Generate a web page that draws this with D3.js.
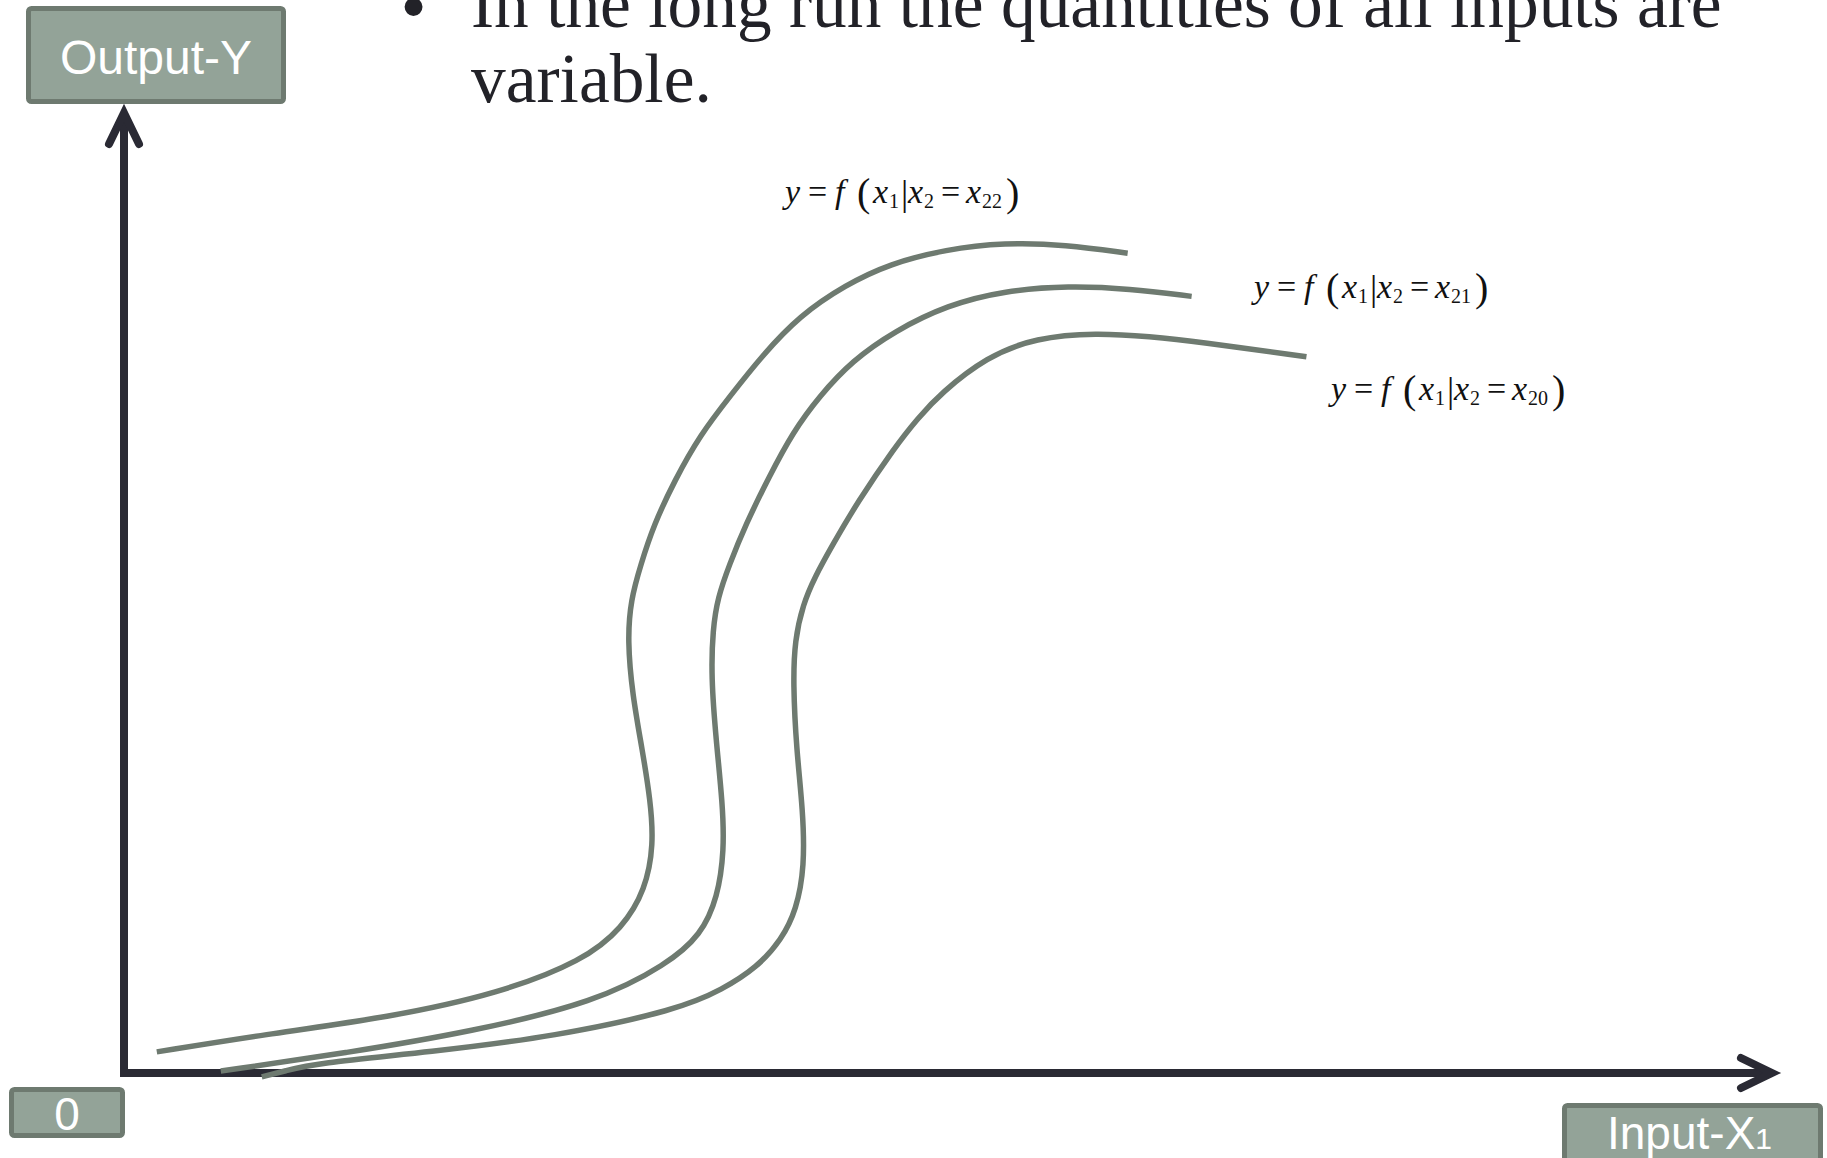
<!DOCTYPE html>
<html>
<head>
<meta charset="utf-8">
<script src="https://cdn.jsdelivr.net/npm/d3@7"></script>
<style>
  html, body { margin: 0; padding: 0; background: #ffffff; overflow: hidden; }
  svg { display: block; }
</style>
</head>
<body>
<svg id="chart" width="1827" height="1158"></svg>
<script>
// Slide text
const titleLines = ["In the long run the quantities of all inputs are", "variable."];

// Axis captions
const yAxisCaption = "Output-Y";
const originCaption = "0";
const xAxisCaption = "Input-X";
const xAxisCaptionSub = "1";

// Total product curves for three fixed levels of x2: [input x1, output y]
const curveX22 = [[2.0,2.2],[8.5,4.0],[16.2,5.8],[22.9,8.3],[28.0,11.7],[30.4,15.1],[31.8,19.1],
  [32.3,23.8],[32.1,28.4],[31.6,33.7],[31.0,39.4],[30.7,45.1],[30.9,49.3],[31.5,52.9],[32.3,57.1],
  [33.6,61.8],[35.1,66.4],[37.0,70.6],[38.9,74.7],[41.2,78.9],[44.0,82.1],[46.7,84.3],[50.1,85.8],
  [53.7,86.5],[57.4,86.3],[61.2,85.4]];
const curveX21 = [[5.9,0.2],[13.6,2.1],[21.2,4.3],[28.8,7.4],[33.1,11.3],[35.2,14.4],[36.2,18.3],
  [36.6,23.2],[36.5,28.1],[36.1,34.7],[35.8,41.3],[35.9,46.2],[36.2,49.5],[36.9,52.9],[37.9,57.1],
  [39.3,62.0],[40.8,66.8],[42.4,70.5],[44.4,74.2],[47.0,77.3],[50.2,80.0],[53.7,81.5],[57.6,82.0],
  [61.3,81.7],[65.1,80.9]];
const curveX20 = [[8.4,-0.4],[9.8,0.2],[11.6,1.0],[18.7,2.2],[26.3,3.8],[33.8,6.6],[36.5,8.7],
  [38.6,11.0],[40.1,13.9],[41.0,17.0],[41.5,21.5],[41.4,27.4],[41.0,33.7],[40.8,40.6],[40.9,45.1],
  [41.4,48.8],[42.1,51.6],[43.2,55.0],[44.7,59.4],[47.0,65.2],[48.4,68.2],[49.8,70.8],[52.6,74.6],
  [55.6,76.6],[59.3,77.1],[62.6,76.7],[65.4,76.2],[72.1,74.6]];

// Subscript of the fixed x2 level for each curve, and where its formula sits [x1, y]
const curveSeries = [curveX22, curveX21, curveX20];
const levelSubs = ["22", "21", "20"];
const formulaAt = [[40.3, 90.6], [68.9, 80.7], [73.6, 70.1]];

const svg = d3.select("#chart");
const axisColor = "#2a2a34";
const curveColor = "#6e7a70";
const boxFill = "#93a398";
const boxStroke = "#6e7a70";

const x = d3.scaleLinear().domain([0, 100]).range([124, 1764]);
const y = d3.scaleLinear().domain([0, 100]).range([1073, 113]);

// Axes with open arrowheads
const x0 = x(0), y0 = y(0);
const xTip = x.range()[1] + 8, yTip = y.range()[1];
const axes = svg.append("g")
  .attr("stroke", axisColor).attr("stroke-width", 8).attr("fill", "none");
axes.append("line").attr("x1", x0 - 4).attr("x2", xTip - 2).attr("y1", y0).attr("y2", y0);
axes.append("line").attr("x1", x0).attr("x2", x0).attr("y1", y0 + 4).attr("y2", yTip + 2);
axes.append("path")
  .attr("d", `M${xTip - 31},${y0 - 15}L${xTip},${y0}L${xTip - 31},${y0 + 15}`)
  .attr("stroke-linecap", "round").attr("stroke-linejoin", "miter");
axes.append("path")
  .attr("d", `M${x0 - 15},${yTip + 31}L${x0},${yTip}L${x0 + 15},${yTip + 31}`)
  .attr("stroke-linecap", "round").attr("stroke-linejoin", "miter");

// Curves (B-spline through the sampled points for a hand-drawn smoothness)
const line = d3.line()
  .x(d => x(d[0]))
  .y(d => y(d[1]))
  .curve(d3.curveBasis);
svg.append("g").selectAll("path")
  .data(curveSeries)
  .join("path")
  .attr("d", line)
  .attr("fill", "none")
  .attr("stroke", curveColor)
  .attr("stroke-width", 5.5);

// Formula labels  y = f(x1 | x2 = x2k)
const serif = "'Liberation Serif', 'Times New Roman', serif";
function drawFormula(g, px, py, sub) {
  const parts = [
    { t: "y", dx: 0, it: true, fs: 34, dy: 0 },
    { t: "=", dx: 23, fs: 34, dy: 0 },
    { t: "f", dx: 50, it: true, fs: 34, dy: 0 },
    { t: "(", dx: 72, fs: 40, dy: 3 },
    { t: "x", dx: 88, it: true, fs: 34, dy: 0 },
    { t: "1", dx: 104, fs: 20, dy: 5 },
    { t: "|", dx: 116, fs: 36, dy: 2 },
    { t: "x", dx: 123, it: true, fs: 34, dy: 0 },
    { t: "2", dx: 139, fs: 20, dy: 5 },
    { t: "=", dx: 156, fs: 34, dy: 0 },
    { t: "x", dx: 181, it: true, fs: 34, dy: 0 },
    { t: sub, dx: 197, fs: 20, dy: 5 },
    { t: ")", dx: 221, fs: 40, dy: 3 }
  ];
  const grp = g.append("g");
  parts.forEach(p => {
    grp.append("text")
      .attr("x", px + p.dx)
      .attr("y", py + p.dy)
      .attr("font-family", serif)
      .attr("font-size", p.fs)
      .attr("font-style", p.it ? "italic" : "normal")
      .attr("fill", "#111111")
      .text(p.t);
  });
}
const labels = svg.append("g");
levelSubs.forEach((s, i) => drawFormula(labels, x(formulaAt[i][0]), y(formulaAt[i][1]), s));

// Title bullet text
svg.append("text")
  .attr("x", 402).attr("y", 29)
  .attr("font-family", "'Liberation Sans', Arial, sans-serif")
  .attr("font-size", 66)
  .attr("fill", "#222228")
  .text("\u2022");
svg.append("g").selectAll("text")
  .data(titleLines)
  .join("text")
  .attr("x", 471)
  .attr("y", (d, i) => 27 + i * 75)
  .attr("font-family", serif)
  .attr("font-size", 69.4)
  .attr("fill", "#222228")
  .text(d => d);

// Caption boxes
const sans = "'Liberation Sans', Arial, sans-serif";
function captionBox(bx, by, bw, bh) {
  svg.append("rect")
    .attr("x", bx + 2.5).attr("y", by + 2.5)
    .attr("width", bw - 5).attr("height", bh - 5)
    .attr("rx", 3)
    .attr("fill", boxFill)
    .attr("stroke", boxStroke)
    .attr("stroke-width", 5);
}
captionBox(26, 6, 260, 98);
svg.append("text")
  .attr("x", 156).attr("y", 74)
  .attr("text-anchor", "middle")
  .attr("font-family", sans).attr("font-size", 48)
  .attr("fill", "#ffffff")
  .text(yAxisCaption);

captionBox(9, 1087, 116, 51);
svg.append("text")
  .attr("x", 67).attr("y", 1130)
  .attr("text-anchor", "middle")
  .attr("font-family", sans).attr("font-size", 46)
  .attr("fill", "#ffffff")
  .text(originCaption);

captionBox(1562, 1103, 261, 80);
const xc = svg.append("text")
  .attr("x", 1607).attr("y", 1149)
  .attr("font-family", sans).attr("font-size", 46)
  .attr("fill", "#ffffff");
xc.append("tspan").text(xAxisCaption);
xc.append("tspan").attr("font-size", 30).text(xAxisCaptionSub);
</script>
</body>
</html>
